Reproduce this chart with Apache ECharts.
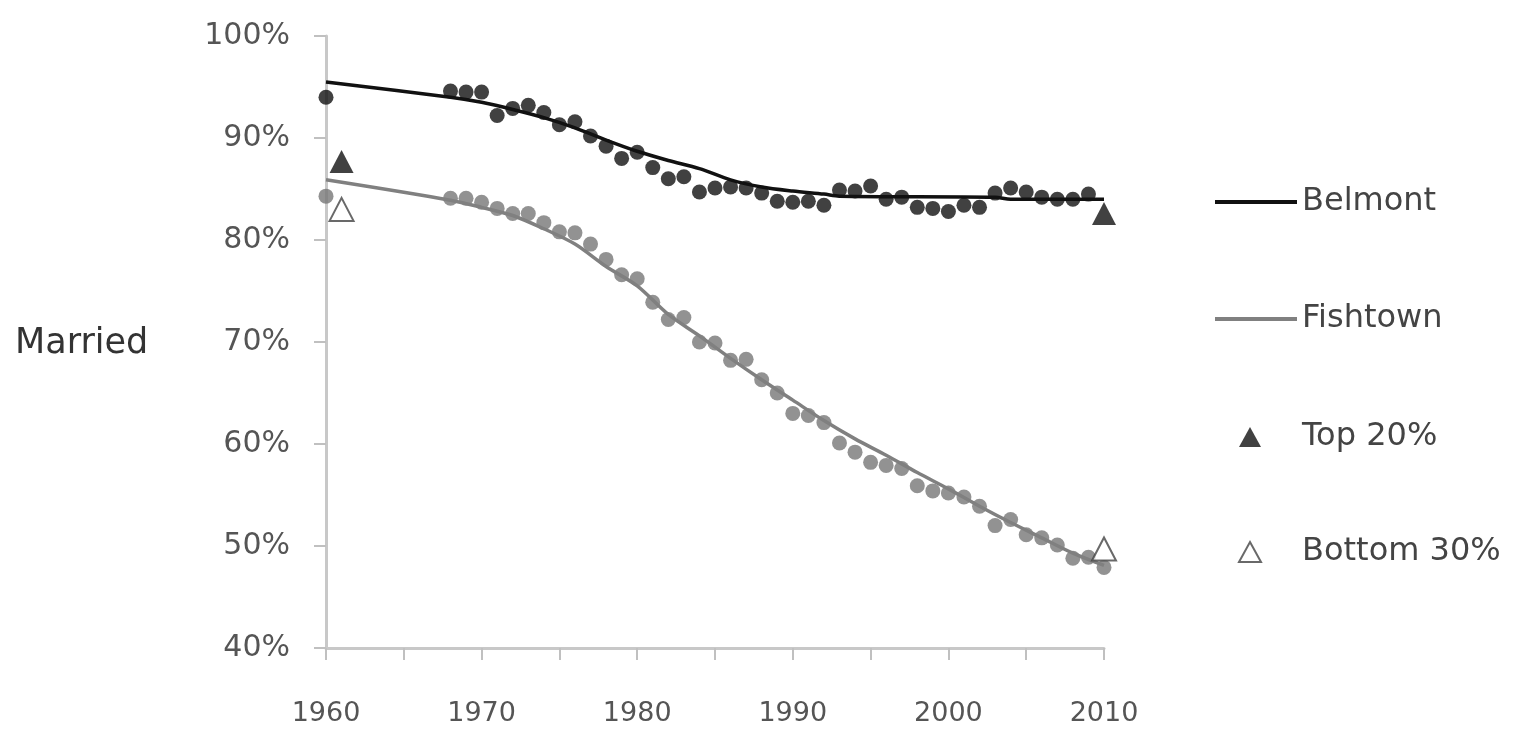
<!DOCTYPE html>
<html>
<head>
<meta charset="utf-8">
<script src="https://cdn.jsdelivr.net/npm/echarts@6/dist/echarts.min.js"></script>
<style>html,body{margin:0;padding:0;background:#fff}#c{width:1536px;height:744px}</style>
</head>
<body>
<div id="c"></div>
<script>
// ---- data ----
const belmontDotYears = [1960,1968,1969,1970,1971,1972,1973,1974,1975,1976,1977,1978,1979,1980,1981,1982,1983,1984,1985,1986,1987,1988,1989,1990,1991,1992,1993,1994,1995,1996,1997,1998,1999,2000,2001,2002,2003,2004,2005,2006,2007,2008,2009];
const belmontDots = [94.0,94.6,94.5,94.5,92.2,92.9,93.2,92.5,91.3,91.6,90.2,89.2,88.0,88.6,87.1,86.0,86.2,84.7,85.1,85.2,85.1,84.6,83.8,83.7,83.8,83.4,84.9,84.8,85.3,84.0,84.2,83.2,83.1,82.8,83.4,83.2,84.6,85.1,84.7,84.2,84.0,84.0,84.5];
const fishtownDotYears = [1960,1968,1969,1970,1971,1972,1973,1974,1975,1976,1977,1978,1979,1980,1981,1982,1983,1984,1985,1986,1987,1988,1989,1990,1991,1992,1993,1994,1995,1996,1997,1998,1999,2000,2001,2002,2003,2004,2005,2006,2007,2008,2009,2010];
const fishtownDots = [84.3,84.1,84.1,83.7,83.1,82.6,82.6,81.7,80.8,80.7,79.6,78.1,76.6,76.2,73.9,72.2,72.4,70.0,69.9,68.2,68.3,66.3,65.0,63.0,62.8,62.1,60.1,59.2,58.2,57.9,57.6,55.9,55.4,55.2,54.8,53.9,52.0,52.6,51.1,50.8,50.1,48.8,48.9,47.9];

const belmontTrendYears = [1960,1968,1970,1972,1974,1976,1978,1980,1982,1984,1986,1988,1990,1992,1993,2003,2004,2010];
const belmontTrend = [95.5,94.0,93.5,92.8,92.0,91.0,89.8,88.7,87.8,87.0,85.9,85.2,84.8,84.5,84.3,84.2,84.0,84.0];
const fishtownTrendYears = [1960,1968,1970,1972,1974,1976,1978,1980,1982,1984,1986,1988,1990,1992,1994,1996,1998,2000,2002,2004,2006,2008,2010];
const fishtownTrend = [85.9,83.9,83.2,82.4,81.1,79.6,77.4,75.5,72.7,70.6,68.4,66.3,64.3,62.3,60.5,58.9,57.2,55.6,53.9,52.3,50.8,49.3,48.1];

const top20Years = [1961,2010];
const top20 = [87.7,82.6];
const bottom30Years = [1961,2010];
const bottom30 = [83.0,49.7];

const yTicks = [40,50,60,70,80,90,100];
const xLabelYears = [1960,1970,1980,1990,2000,2010];

const pair = (xs, ys) => xs.map((x, i) => [x, ys[i]]);

const FONT = 'DejaVu Sans';
const chart = echarts.init(document.getElementById('c'));
chart.setOption({
  animation: false,
  backgroundColor: '#ffffff',
  grid: { left: 326, right: 432, top: 36, bottom: 96, containLabel: false },
  xAxis: {
    type: 'value', min: 1960, max: 2010, interval: 5,
    axisLine: { show: true, lineStyle: { color: '#c8c8c8', width: 3 } },
    axisTick: { show: true, length: 12, lineStyle: { color: '#c0c0c0', width: 2 } },
    axisLabel: {
      formatter: v => xLabelYears.includes(v) ? String(v) : '',
      fontSize: 27, color: '#555', margin: 52, fontFamily: FONT
    },
    splitLine: { show: false }
  },
  yAxis: {
    type: 'value', min: 40, max: 100, interval: 10,
    axisLine: { show: true, lineStyle: { color: '#c8c8c8', width: 3 } },
    axisTick: { show: true, length: 12, lineStyle: { color: '#c0c0c0', width: 2 } },
    axisLabel: {
      formatter: v => yTicks.includes(v) ? v + '%' : '',
      fontSize: 30, color: '#555', margin: 36, fontFamily: FONT
    },
    splitLine: { show: false }
  },
  legend: [
    {
      orient: 'vertical', left: 1210, top: 181, itemGap: 85,
      itemWidth: 82, itemHeight: 4,
      textStyle: { fontSize: 32, color: '#444', fontFamily: FONT, lineHeight: 32 },
      data: [
        { name: 'Belmont', icon: 'rect', itemStyle: { color: '#111' } },
        { name: 'Fishtown', icon: 'rect', itemStyle: { color: '#808080' } }
      ],
      selectedMode: false
    },
    {
      orient: 'vertical', left: 1233, top: 416, itemGap: 83,
      itemWidth: 22, itemHeight: 20,
      textStyle: { fontSize: 32, color: '#444', fontFamily: FONT, lineHeight: 32, padding: [0, 0, 0, 36] },
      data: [
        { name: 'Top 20%', icon: 'triangle' },
        { name: 'Bottom 30%', icon: 'triangle' }
      ],
      selectedMode: false
    }
  ],
  graphic: [
    { type: 'text', left: 15, top: 326, style: { text: 'Married', font: '35px "DejaVu Sans"', fill: '#333' } }
  ],
  series: [
    {
      name: 'Fishtown dots', type: 'scatter', data: pair(fishtownDotYears, fishtownDots),
      symbol: 'circle', symbolSize: 15, itemStyle: { color: '#777' }, z: 2
    },
    {
      name: 'Belmont dots', type: 'scatter', data: pair(belmontDotYears, belmontDots),
      symbol: 'circle', symbolSize: 15, itemStyle: { color: '#111' }, z: 2
    },
    {
      name: 'Fishtown', type: 'line', data: pair(fishtownTrendYears, fishtownTrend),
      showSymbol: false, symbol: 'none', smooth: 0.3,
      lineStyle: { color: '#808080', width: 3.5 }, itemStyle: { color: '#808080' }, z: 3
    },
    {
      name: 'Belmont', type: 'line', data: pair(belmontTrendYears, belmontTrend),
      showSymbol: false, symbol: 'none', smooth: 0.3,
      lineStyle: { color: '#111', width: 3.5 }, itemStyle: { color: '#111' }, z: 3
    },
    {
      name: 'Top 20%', type: 'scatter', data: pair(top20Years, top20),
      symbol: 'triangle', symbolSize: [24, 23], itemStyle: { color: '#111' }, z: 5
    },
    {
      name: 'Bottom 30%', type: 'scatter', data: pair(bottom30Years, bottom30),
      symbol: 'triangle', symbolSize: [24, 23],
      itemStyle: { color: '#ffffff', borderColor: '#444', borderWidth: 2 }, z: 5
    }
  ]
});
</script>
</body>
</html>
